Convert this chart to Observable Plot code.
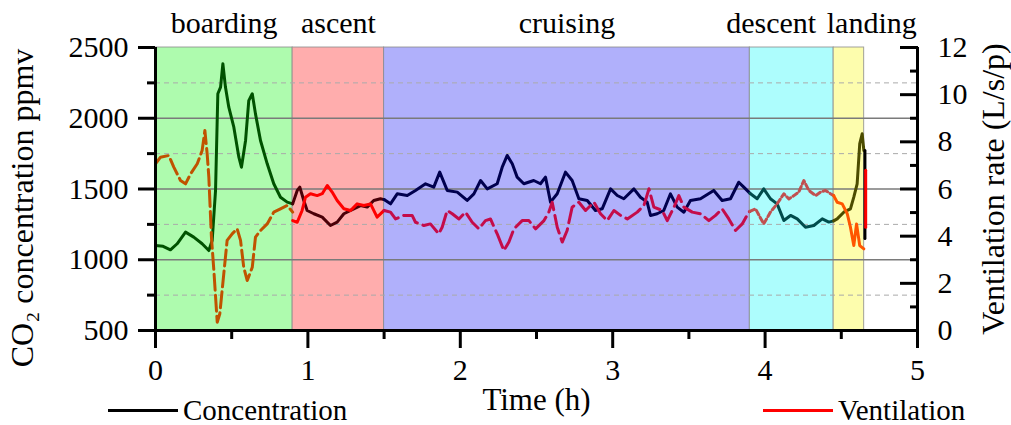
<!DOCTYPE html>
<html><head><meta charset="utf-8">
<script src="https://cdn.jsdelivr.net/npm/d3@7"></script>
<script src="https://cdn.jsdelivr.net/npm/@observablehq/plot@0.6"></script>
<style>
body{margin:0;background:#fff;}
#wrap{position:relative;width:1011px;height:425px;font-family:"Liberation Serif","Times New Roman","DejaVu Serif",serif;}
#wrap svg, #wrap svg text{font-family:"Liberation Serif","Times New Roman","DejaVu Serif",serif !important;}
.leg{position:absolute;top:395px;font-size:29px;line-height:30px;display:flex;align-items:center;color:#000;}
.leg .sw{display:inline-block;width:70px;height:3px;margin-right:5px;}
</style></head><body><div id="wrap"></div>
<script>
// Phases
const phases = ["boarding","ascent","cruising","descent","landing"];
const phaseStart = [0, 0.9, 1.5, 3.9, 4.45];
const phaseEnd = [0.9, 1.5, 3.9, 4.45, 4.65];
const labelPos = [0.45, 1.2, 2.7, 4.04, 4.70];
const phaseFill = ["#aefbae", "#ffadad", "#b0b0fb", "#adfdfd", "#fdfdad"];
const concColor = ["#005200", "#4a0008", "#00004e", "#004c4c", "#4c4c00"];
const ventColor = ["#c05200", "#ff0000", "#c40c4a", "#c05050", "#ff5500"];
const ventDash = ["16,5", null, "18,6", "5,3", null];

// Ticks
const xMajor = [0, 1, 2, 3, 4, 5];
const xMinor = [0.5, 1.5, 2.5, 3.5, 4.5];
const leftMajor = [500, 1000, 1500, 2000, 2500];
const leftMinor = [750, 1250, 1750, 2250];
const rightMajor = [0, 2, 4, 6, 8, 10, 12];
const rightMinor = [1, 3, 5, 7, 9, 11];

// CO2 concentration (ppmv) by phase: [time h, value]
const concBoarding = [[0,1100],[0.05,1095],[0.098,1070],[0.142,1113],[0.197,1195],[0.251,1160],[0.306,1113],[0.35,1065],[0.372,1136],[0.394,1490],[0.409,2173],[0.427,2220],[0.442,2385],[0.459,2220],[0.481,2078],[0.514,1937],[0.547,1725],[0.564,1654],[0.591,1843],[0.612,2125],[0.635,2173],[0.656,2031],[0.689,1843],[0.733,1678],[0.776,1537],[0.82,1442],[0.864,1407],[0.9,1395]];
const concAscent = [[0.9,1395],[0.93,1490],[0.947,1513],[0.973,1419],[0.995,1348],[1.039,1325],[1.094,1301],[1.148,1242],[1.192,1266],[1.236,1325],[1.301,1360],[1.345,1383],[1.389,1372],[1.432,1419],[1.476,1431],[1.5,1425]];
const concCruising = [[1.5,1425],[1.542,1395],[1.586,1466],[1.652,1454],[1.706,1490],[1.772,1537],[1.826,1513],[1.865,1619],[1.914,1490],[1.98,1478],[2.045,1419],[2.089,1466],[2.133,1560],[2.177,1501],[2.242,1537],[2.275,1654],[2.308,1737],[2.341,1678],[2.373,1584],[2.417,1537],[2.482,1560],[2.526,1537],[2.559,1584],[2.592,1407],[2.636,1466],[2.69,1619],[2.734,1560],[2.778,1431],[2.833,1419],[2.887,1348],[2.931,1360],[2.986,1501],[3.03,1454],[3.073,1431],[3.139,1501],[3.182,1442],[3.226,1407],[3.248,1313],[3.292,1325],[3.335,1348],[3.379,1466],[3.423,1372],[3.467,1336],[3.51,1419],[3.576,1431],[3.663,1490],[3.718,1419],[3.773,1431],[3.827,1548],[3.86,1513],[3.893,1478],[3.9,1470]];
const concDescent = [[3.9,1470],[3.948,1431],[3.991,1501],[4.035,1431],[4.079,1395],[4.123,1277],[4.167,1313],[4.211,1289],[4.265,1230],[4.32,1242],[4.375,1289],[4.418,1266],[4.45,1275]];
const concLanding = [[4.45,1275],[4.473,1289],[4.516,1336],[4.56,1360],[4.582,1442],[4.604,1537],[4.621,1820],[4.637,1890],[4.648,1772]];
const concEnd = [[4.655,1772],[4.655,1150]];

// Ventilation rate (L/s/p) by phase: [time h, value]
const ventBoarding = [[0,7.07],[0.033,7.35],[0.087,7.42],[0.12,6.93],[0.164,6.36],[0.197,6.22],[0.23,6.64],[0.274,7.07],[0.306,7.63],[0.324,8.48],[0.339,7.49],[0.35,6.5],[0.367,3.96],[0.383,2.54],[0.405,0.35],[0.422,0.71],[0.448,2.4],[0.47,3.82],[0.503,4.1],[0.536,4.31],[0.558,3.82],[0.579,2.68],[0.602,2.12],[0.635,2.68],[0.656,3.96],[0.689,4.24],[0.733,4.52],[0.776,5.02],[0.82,5.16],[0.864,5.3],[0.9,5.02]];
const ventAscent = [[0.9,4.66],[0.93,4.59],[0.962,5.09],[0.984,5.65],[1.017,5.8],[1.061,5.72],[1.094,5.8],[1.127,6.15],[1.159,5.87],[1.192,5.51],[1.236,5.16],[1.28,5.09],[1.323,5.37],[1.367,5.3],[1.411,5.37],[1.454,4.81],[1.5,5.09]];
const ventCruising = [[1.5,5.09],[1.542,5.02],[1.575,4.73],[1.63,4.88],[1.684,4.88],[1.706,4.59],[1.761,4.45],[1.804,4.52],[1.859,4.1],[1.881,4.38],[1.914,5.09],[1.947,4.95],[1.991,4.73],[2.034,5.02],[2.078,4.59],[2.122,4.31],[2.165,4.66],[2.198,4.73],[2.242,4.1],[2.286,3.39],[2.319,3.75],[2.352,4.31],[2.406,4.66],[2.45,4.66],[2.494,4.31],[2.549,4.66],[2.581,5.02],[2.603,5.44],[2.636,4.38],[2.669,3.75],[2.701,4.24],[2.734,5.23],[2.778,5.44],[2.822,5.09],[2.877,5.44],[2.92,4.95],[2.964,4.66],[3.008,5.09],[3.052,4.88],[3.096,4.73],[3.161,5.02],[3.205,5.3],[3.238,6.01],[3.27,5.23],[3.325,5.09],[3.358,4.66],[3.402,5.23],[3.434,5.72],[3.467,5.23],[3.522,5.02],[3.576,4.95],[3.631,4.66],[3.675,4.88],[3.718,5.16],[3.762,4.73],[3.806,4.24],[3.85,4.52],[3.893,5.02],[3.9,5.05]];
const ventDescent = [[3.9,5.05],[3.937,5.16],[3.991,4.52],[4.035,5.02],[4.079,5.37],[4.123,5.8],[4.156,5.58],[4.189,5.72],[4.221,5.87],[4.254,6.36],[4.287,5.94],[4.331,5.72],[4.364,5.87],[4.396,5.94],[4.429,5.8],[4.45,5.72]];
const ventLanding = [[4.45,5.72],[4.473,5.44],[4.506,5.37],[4.539,4.95],[4.56,4.38],[4.582,3.6],[4.6,4.52],[4.621,3.6],[4.648,3.46]];
const ventEnd = [[4.66,6.79],[4.66,4.38]];

const concSeries = [concBoarding, concAscent, concCruising, concDescent, concLanding];
const ventSeries = [ventBoarding, ventAscent, ventCruising, ventDescent, ventLanding];

// map ventilation (0..12) onto the left concentration scale (500..2500)
const toC = v => 500 + v * 2000 / 12;
const toV = c => (c - 500) * 12 / 2000;

const phaseRows = phases.map((p, i) => ({p, i}));
const font = "Liberation Serif, Times New Roman, serif";

const marks = [
  Plot.rect(phaseRows, {x1: d => phaseStart[d.i], x2: d => phaseEnd[d.i], y1: () => 500, y2: () => 2500,
    fill: d => phaseFill[d.i], stroke: "#8a8a8a", strokeWidth: 1, strokeOpacity: 0.8}),
  Plot.ruleY(leftMajor.slice(1, -1), {stroke: "#7a7a7a", strokeWidth: 1.3}),
  Plot.ruleY(leftMinor, {stroke: "#aaaaaa", strokeWidth: 1, strokeDasharray: "5,4"}),
  ...concSeries.map((s, i) => Plot.line(s, {x: d => d[0], y: d => d[1], stroke: concColor[i], strokeWidth: 3})),
  Plot.line(concEnd, {x: d => d[0], y: d => d[1], stroke: "#000", strokeWidth: 3}),
  ...ventSeries.map((s, i) => Plot.line(s, {x: d => d[0], y: d => toC(d[1]), stroke: ventColor[i], strokeWidth: 3,
    strokeDasharray: ventDash[i] || undefined})),
  Plot.line(ventEnd, {x: d => d[0], y: d => toC(d[1]), stroke: "#ff0000", strokeWidth: 3}),
  Plot.ruleX([0], {stroke: "#000", strokeWidth: 3}),
  Plot.ruleX([5], {stroke: "#000", strokeWidth: 3}),
  Plot.ruleY([500], {stroke: "#000", strokeWidth: 3}),
  Plot.axisX(xMajor, {tickSize: 18, tickPadding: 10, strokeWidth: 3, fontSize: 30, fontFamily: font, tickFormat: d => String(d), label: null}),
  Plot.axisX(xMinor, {tickSize: 9, strokeWidth: 3, tickFormat: () => "", label: null}),
  Plot.axisY(leftMajor, {anchor: "left", tickSize: 17, tickPadding: 10, strokeWidth: 3, fontSize: 30, fontFamily: font, tickFormat: d => String(d), label: null}),
  Plot.axisY(leftMinor, {anchor: "left", tickSize: 8, strokeWidth: 3, tickFormat: () => "", label: null}),
  Plot.axisY(rightMajor.map(toC), {anchor: "right", tickSize: -18, strokeWidth: 3, tickFormat: () => "", label: null}),
  Plot.axisY(rightMinor.map(toC), {anchor: "right", tickSize: -8, strokeWidth: 3, tickFormat: () => "", label: null}),
  Plot.axisY(rightMajor.map(toC), {anchor: "right", tickSize: 0, tickPadding: 20, fontSize: 30, fontFamily: font, tickFormat: d => String(Math.round(toV(d))), label: null}),
  // axis titles
  Plot.text(["CO\u2082 concentration ppmv"], {frameAnchor: "left", rotate: -90, dx: -133, dy: 19, text: d => d,
    textAnchor: "middle", lineAnchor: "middle", fontSize: 32, fontFamily: font, fill: "#000"}),
  Plot.text(["Ventilation rate (L/s/p)"], {frameAnchor: "right", rotate: -90, dx: 76, dy: 0, text: d => d,
    textAnchor: "middle", lineAnchor: "middle", fontSize: 32, fontFamily: font, fill: "#000"}),
  Plot.text(["Time (h)"], {frameAnchor: "bottom", dy: 70, text: d => d, textAnchor: "middle", lineAnchor: "middle",
    fontSize: 31, fontFamily: font, fill: "#000"}),
  Plot.text(phaseRows, {x: d => labelPos[d.i], y: () => 2500, dy: -24, text: d => d.p, fontSize: 30, fontFamily: font, fill: "#000"})
];

const chart = Plot.plot({
  width: 1011, height: 425,
  marginLeft: 155, marginRight: 94, marginTop: 47, marginBottom: 95,
  x: {domain: [0, 5]},
  y: {domain: [500, 2500]},
  style: {fontFamily: font, background: "#fff", color: "#000", overflow: "visible"},
  marks
});
const wrap = document.getElementById("wrap");
wrap.appendChild(chart);

const legendItems = [
  {name: "Concentration", color: "#000", left: 108},
  {name: "Ventilation", color: "#ff0000", left: 763}
];
for (const it of legendItems) {
  const d = document.createElement("div");
  d.className = "leg";
  d.style.left = it.left + "px";
  const sw = document.createElement("span");
  sw.className = "sw";
  sw.style.background = it.color;
  d.appendChild(sw);
  d.appendChild(document.createTextNode(it.name));
  wrap.appendChild(d);
}
</script></body></html>
